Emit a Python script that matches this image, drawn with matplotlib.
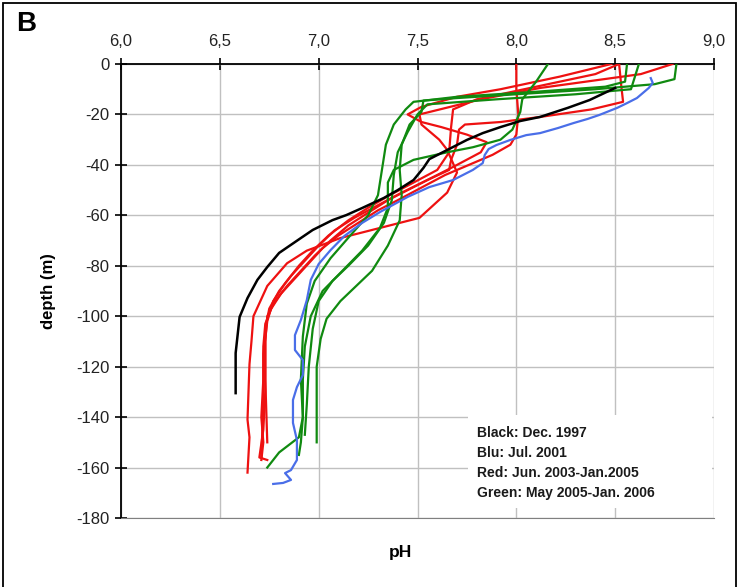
import matplotlib
matplotlib.use("Agg")
import matplotlib.pyplot as plt
from matplotlib.patches import Rectangle
from matplotlib.ticker import FuncFormatter

plt.rcParams['font.family'] = ['Liberation Sans', 'DejaVu Sans']
plt.rcParams['axes.unicode_minus'] = False

# ---------------- data (pH, depth m) ----------------
black_ph = [8.50, 8.37, 8.26, 8.12, 8.02, 7.92, 7.83, 7.75, 7.68, 7.61, 7.56, 7.53, 7.48, 7.40, 7.33,
            7.22, 7.14, 7.07, 6.97, 6.91, 6.80, 6.74, 6.69, 6.64, 6.60, 6.58, 6.58]
black_depth = [-9.5, -14.3, -17.4, -21.0, -22.6, -25.0, -27.4, -30.1, -32.9, -35.7, -37.7, -41.2, -46.0, -50.0, -53.1,
               -57.1, -59.9, -61.9, -65.8, -69.0, -74.9, -80.5, -85.6, -92.8, -100.3, -114.6, -130.5]

blue_ph = [8.68, 8.69, 8.67, 8.64, 8.61, 8.56, 8.51, 8.42, 8.36, 8.29, 8.21, 8.12, 8.05, 7.97, 7.90, 7.86,
           7.84, 7.83, 7.78, 7.68, 7.56, 7.45, 7.31, 7.22, 7.13, 7.06, 7.00, 6.96, 6.94, 6.91, 6.88, 6.88,
           6.92, 6.92, 6.89, 6.87, 6.87, 6.89, 6.89, 6.86, 6.83, 6.86, 6.82, 6.77]
blue_depth = [-5.6, -7.5, -9.5, -11.5, -13.5, -15.5, -17.4, -20.2, -21.8, -23.4, -25.4, -27.4, -28.2, -30.1, -32.1, -33.7,
              -36.1, -39.3, -42.0, -46.0, -48.8, -52.7, -58.7, -63.0, -68.2, -73.8, -79.3, -85.6, -93.6, -101.5, -107.5, -113.4,
              -117.4, -123.3, -128.1, -133.2, -142.3, -149.1, -157.0, -161.0, -162.2, -164.9, -166.1, -166.5]

red1_ph = [8.79, 8.63, 8.12, 7.82, 7.51, 7.52, 7.61, 7.65, 7.70, 7.65, 7.51, 7.31, 7.11, 6.94, 6.84, 6.74, 6.67, 6.66, 6.65, 6.64, 6.65, 6.64]
red1_depth = [0, -4, -9.5, -14, -20, -24, -30, -34, -43, -51, -61, -65, -69, -74, -79, -88, -100, -110, -119, -141, -148, -162]

red2_ph = [8.00, 8.00, 8.01, 8.00, 7.97, 7.88, 7.76, 7.64, 7.52, 7.40, 7.30, 7.20, 7.10, 7.02, 6.95, 6.88, 6.81, 6.76,
           6.73, 6.72, 6.72, 6.71, 6.72, 6.71]
red2_depth = [0, -10, -20, -28, -32, -36, -40, -44, -49, -54, -58, -63, -68, -73, -79, -85, -91, -97,
              -103, -112, -125, -140, -150, -157]

red3_ph = [8.52, 8.53, 8.54, 8.38, 8.12, 7.92, 7.74, 7.71, 7.70, 7.67, 7.66, 7.55, 7.45, 7.35, 7.25, 7.15, 7.06, 6.98,
           6.91, 6.84, 6.78, 6.74, 6.73, 6.73, 6.72, 6.70, 6.74]
red3_depth = [0, -8, -15, -18, -21, -23, -24, -26, -32, -38, -42, -46, -50, -54, -59, -64, -70, -76,
              -82, -88, -94, -100, -110, -130, -145, -156, -157]

red4_ph = [8.48, 8.22, 7.92, 7.70, 7.52, 7.45, 7.52, 7.62, 7.75, 7.85, 7.82, 7.70, 7.55, 7.42, 7.30, 7.18, 7.08, 7.00,
           6.93, 6.86, 6.80, 6.75, 6.73, 6.73, 6.74]
red4_depth = [0, -5, -10, -13, -17, -20, -23, -25, -28, -31, -35, -40, -46, -51, -56, -61, -66, -72,
              -78, -84, -90, -97, -105, -125, -150]

red5_ph = [8.52, 8.40, 8.10, 7.80, 7.68, 7.67, 7.66, 7.60, 7.48, 7.36, 7.25, 7.15, 7.05, 6.97, 6.90, 6.83, 6.77, 6.74,
           6.72, 6.72, 6.71]
red5_depth = [0, -4, -9, -14, -18, -25, -35, -42, -47, -52, -57, -62, -68, -74, -80, -87, -94, -102,
              -115, -135, -156]

green1_ph = [8.16, 8.10, 8.03, 8.02, 7.98, 7.92, 7.78, 7.65, 7.48, 7.38, 7.35, 7.35, 7.31, 7.22, 7.12, 7.02, 6.96, 6.93, 6.92, 6.92, 6.91, 6.90]
green1_depth = [0, -7, -14, -19, -26, -30, -33, -35, -38, -42, -47, -57, -65, -74, -82, -90, -100, -112, -125, -140, -150, -155]

green2_ph = [8.81, 8.80, 8.70, 8.40, 8.00, 7.70, 7.53, 7.52, 7.46, 7.42, 7.41, 7.42, 7.41, 7.35, 7.27, 7.19, 7.11, 7.04, 7.01, 6.99, 6.99, 6.99]
green2_depth = [0, -6, -8, -10, -12, -13.5, -14.5, -19, -24, -32, -42, -52, -62, -72, -82, -88, -94, -101, -109, -120, -135, -150]

green3_ph = [8.56, 8.55, 8.45, 8.10, 7.70, 7.48, 7.44, 7.38, 7.34, 7.32, 7.30, 7.25, 7.16, 7.06, 6.98, 6.94, 6.92, 6.91, 6.92, 6.90, 6.80, 6.74]
green3_depth = [0, -7, -9, -11, -13, -15, -18, -24, -32, -42, -52, -60, -68, -77, -86, -95, -108, -125, -140, -148, -154, -160]

green4_ph = [8.62, 8.58, 8.30, 7.90, 7.55, 7.50, 7.45, 7.40, 7.38, 7.37, 7.33, 7.25, 7.15, 7.07, 7.00, 6.97, 6.95, 6.94, 6.93]
green4_depth = [0, -10, -12, -14, -16, -20, -27, -35, -44, -54, -63, -72, -80, -86, -94, -105, -120, -135, -147]

x_ticks = [6.0, 6.5, 7.0, 7.5, 8.0, 8.5, 9.0]
y_ticks = [0, -20, -40, -60, -80, -100, -120, -140, -160, -180]

legend_lines = ["Black: Dec. 1997", "Blu: Jul. 2001", "Red: Jun. 2003-Jan.2005", "Green: May 2005-Jan. 2006"]

RED = "#ee1111"
GREEN = "#108a10"
BLUE = "#4a6ee8"

# ---------------- figure ----------------
fig = plt.figure(figsize=(7.38, 5.87), dpi=100)
ax = fig.add_axes([121/738, 1-518/587, (714-121)/738, (518-64)/587])

for ph, d in [(red1_ph, red1_depth), (red2_ph, red2_depth), (red3_ph, red3_depth),
              (red4_ph, red4_depth), (red5_ph, red5_depth)]:
    ax.plot(ph, d, color=RED, lw=1.6, zorder=3)
for ph, d in [(green1_ph, green1_depth), (green2_ph, green2_depth),
              (green3_ph, green3_depth), (green4_ph, green4_depth)]:
    ax.plot(ph, d, color=GREEN, lw=1.6, zorder=3)
ax.plot(blue_ph, blue_depth, color=BLUE, lw=1.6, zorder=4)
ax.plot(black_ph, black_depth, color="black", lw=1.8, zorder=5)

ax.set_xlim(6.0, 9.0)
ax.set_ylim(-180, 0)
ax.set_xticks(x_ticks)
ax.set_yticks(y_ticks)
ax.xaxis.set_major_formatter(FuncFormatter(lambda v, p: f"{v:.1f}".replace(".", ",")))
ax.yaxis.set_major_formatter(FuncFormatter(lambda v, p: f"{int(round(v))}"))
ax.xaxis.tick_top()
ax.tick_params(axis='x', which='major', direction='inout', length=9, width=1.2,
               labelsize=12, pad=6, colors='black', labelcolor='#222222')
ax.tick_params(axis='y', which='major', direction='inout', length=9, width=1.2,
               labelsize=12, pad=4, labelcolor='#222222')
ax.grid(True, color='#c0c0c0', lw=1.0, zorder=0)
ax.spines['left'].set_linewidth(1.3)
ax.spines['top'].set_linewidth(1.3)
ax.spines['right'].set_visible(False)
ax.spines['bottom'].set_color('#808080')

ax.set_ylabel("depth (m)", fontsize=12, fontweight='bold', labelpad=14)
fig.text(400/738, 1-552/587, "pH", fontsize=12.5, fontweight='bold', ha='center', va='center')
fig.text(16/738, 1-24/587, "B", fontsize=20, fontweight='bold', ha='left', va='center')

# legend box
ax.add_patch(Rectangle((468/738, 1-508/587), (712-468)/738, (508-415)/587,
                       transform=fig.transFigure, facecolor='white', edgecolor='none', zorder=6))
for i, t in enumerate(legend_lines):
    fig.text(477/738, 1-(433+20*i)/587, t, fontsize=10, fontweight='bold', ha='left',
             va='center', color='#1a1a1a', zorder=7)

# figure border
fig.patches.append(Rectangle((3/738, -0.01), 733/738, 1-3/587+0.01, transform=fig.transFigure,
                             fill=False, edgecolor='black', lw=1.3))

fig.savefig("out.png", dpi=100)
